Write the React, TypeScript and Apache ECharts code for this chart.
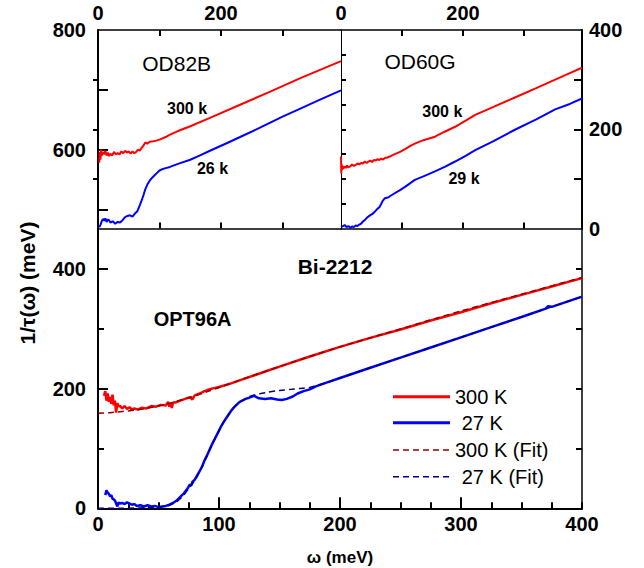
import React, { useEffect, useRef } from 'react';
import * as echarts from 'echarts';

const FONT = '"Liberation Sans", Arial, Helvetica, sans-serif';

// ---- Main panel (OPT96A), ω in meV, 1/τ in meV ----
const main300K: [number, number][] = [[5,188],[6,196],[7,180],[8,192],[9,178],[10,186],[11,175],[12,190],[13,172],[14,180],[15,160],[16,176],[17,170],[18,172],[20,167],[22,171],[24,166],[26,169],[28,165],[30,167],[33,165],[36,168],[40,167],[44,171],[48,170],[52,173],[56,172],[58,178],[59,170],[60,176],[61,168],[62,177],[64,177],[68,180],[72,183],[76,186],[78,182],[80,189],[84,192],[88,196],[92,199],[96,201],[100,203],[110,209],[120,216],[130,223],[140,230],[150,237],[175,254],[200,270],[225,285],[250,299],[275,314],[300,328],[325,343],[350,357],[375,371],[400,385]];
const main27K: [number, number][] = [[6,22],[7,30],[8,26],[9,24],[10,20],[11,22],[12,16],[13,15],[14,13],[15,8],[16,3],[17,10],[18,8],[20,9],[22,7],[24,10],[26,8],[28,6],[30,7],[32,4],[35,5],[38,3],[41,5],[44,3],[47,4],[50,2],[53,3],[56,4],[59,6],[62,9],[65,13],[68,19],[71,25],[74,33],[76,40],[77,38],[78,44],[80,48],[82,55],[84,62],[86,70],[88,80],[90,88],[92,97],[94,106],[96,114],[98,122],[100,130],[102,138],[104,145],[106,151],[108,157],[110,163],[112,168],[114,172],[116,176],[118,179],[120,181],[122,183],[125,185],[129,188],[133,184],[138,183],[143,184],[148,182],[152,181],[156,183],[161,187],[165,192],[170,196],[175,199],[180,204],[190,211],[200,218],[225,235],[250,252],[275,269],[300,286],[325,303],[350,320],[370,334],[372,338],[375,337],[400,354]];
const fit300K: [number, number][] = [[0,159],[10,160],[20,162],[30,164],[40,167],[50,171],[60,176],[70,182],[80,188],[90,195],[100,202],[125,220],[150,237],[175,254],[200,270],[250,300],[300,330],[350,358],[400,386]];
const fit27K: [number, number][] = [[0,0],[20,0],[40,1],[50,2],[55,3],[60,6],[65,11],[70,20],[75,33],[80,47],[85,65],[90,87],[95,110],[100,130],[105,148],[110,163],[115,174],[120,181],[125,187],[130,190],[140,194],[150,197],[160,199],[170,201],[175,202],[180,205],[190,211],[200,218],[250,252],[300,286],[350,320],[400,354]];

// ---- Left inset (OD82B) ----
const od82b300K: [number, number][] = [[2,578],[3,596],[4,583],[5,600],[6,590],[8,596],[10,592],[12,598],[14,590],[16,595],[18,589],[20,593],[23,590],[26,596],[29,592],[32,594],[35,592],[38,597],[41,594],[44,598],[47,595],[50,597],[53,593],[56,597],[59,594],[62,596],[65,600],[68,598],[71,603],[74,607],[77,612],[80,610],[84,613],[90,614],[95,615],[101,617],[110,621],[117,625],[130,631],[150,639],[182,653],[231,675],[280,697],[328,719],[360,733],[395,748]];
const od82b26K: [number, number][] = [[2,470],[4,474],[6,480],[8,484],[10,481],[12,485],[14,479],[16,483],[18,482],[20,478],[24,480],[28,476],[32,479],[36,478],[40,482],[44,487],[48,489],[52,490],[56,488],[60,493],[64,497],[68,507],[71,515],[74,524],[77,534],[80,541],[84,548],[88,553],[92,557],[96,561],[100,565],[104,567],[110,569],[117,571],[130,576],[150,583],[165,590],[182,598],[210,611],[231,621],[260,635],[280,645],[300,655],[328,668],[360,683],[395,699]];

// ---- Right inset (OD60G) ----
const od60g300K: [number, number][] = [[0,145],[0.5,111],[1,130],[2,118],[3,126],[4,121],[6,125],[8,122],[10,127],[12,123],[15,125],[18,129],[21,126],[24,128],[27,131],[30,129],[33,132],[36,131],[39,135],[42,132],[45,135],[48,137],[51,134],[54,138],[57,137],[60,140],[63,138],[66,141],[69,139],[72,142],[76,143],[80,145],[88,150],[96,154],[105,160],[113,166],[121,171],[135,178],[154,185],[170,195],[187,205],[205,218],[220,229],[250,245],[285,264],[320,283],[351,300],[375,313],[395,324]];
const od60g29K: [number, number][] = [[0,3],[3,5],[6,7],[9,3],[12,5],[15,2],[18,4],[21,3],[24,6],[27,5],[30,8],[33,10],[36,14],[39,17],[42,21],[45,24],[48,27],[51,29],[54,32],[57,36],[60,40],[63,43],[66,50],[68,55],[70,58],[72,61],[75,62],[78,63],[80,65],[84,68],[88,71],[96,77],[105,84],[113,91],[121,98],[135,105],[154,115],[170,124],[187,135],[205,147],[220,158],[250,176],[285,199],[320,220],[351,240],[375,251],[395,262]];

// ---- Tick / label values ----
const mainXRange = [0, 400];
const mainXMajorTicks = [100, 200, 300];
const mainYRange = [0, 468];
const insetXRange = [0, 395];
const leftInsetYRange = [468, 800];
const rightInsetYRange = [0, 400];
const mainYLabels = [0, 200, 400];
const mainYMajorTicks = [200, 400];
const mainYMinorTicks = [100, 300];
const mainYRightTicks = [100, 200, 300, 400];
const insetXLabels = [0, 200];
const insetXTicks = [100, 200, 300];
const leftInsetYLabels = [600, 800];
const leftInsetYTicks = [500, 600, 700];
const leftInsetYRightTicks = [100, 200, 300]; // drawn on the OD60G scale at the shared divider
const rightInsetYLabels = [0, 200, 400];
const rightInsetYTicks = [100, 200, 300];
const rightInsetYLeftTicks = [50, 100, 150, 200, 250, 300, 350];

const RED = '#ff0000';
const BLUE = '#0000ff';
const DARKRED = '#8b0000';
const NAVY = '#000080';
const TICKW = 2;

const labelStyle = { color: '#000', fontFamily: FONT, fontWeight: 'bold' as const, fontSize: 20 };
const line = (w: number) => ({ show: true, onZero: false, lineStyle: { color: '#000', width: w } });
const tick = (len: number, values: number[]) => ({ show: true, inside: true, length: len, customValues: values, lineStyle: { color: '#000', width: TICKW } });

const txt = (x: number, y: number, text: string, size: number, bold: boolean, extra: any = {}) => ({
  type: 'text', x, y, ...extra,
  style: {
    text, fill: '#000', fontSize: size, fontFamily: FONT, fontWeight: bold ? 'bold' : 'normal',
    align: 'center', textAlign: 'center',
    verticalAlign: 'middle', textVerticalAlign: 'middle',
  },
});

const legendRows = [
  { label: '300 K', color: RED, width: 3, dash: null as number[] | null, tx: 455, y: 396.7 },
  { label: '27 K', color: BLUE, width: 3, dash: null, tx: 461.7, y: 422.7 },
  { label: '300 K (Fit)', color: DARKRED, width: 1.5, dash: [6, 4], tx: 455, y: 450 },
  { label: '27 K (Fit)', color: NAVY, width: 1.5, dash: [6, 4], tx: 461.7, y: 476.7 },
];

function buildOption(): any {
  const legendGraphics: any[] = [];
  legendRows.forEach((r) => {
    legendGraphics.push({
      type: 'line',
      shape: { x1: 393, y1: r.y, x2: 450, y2: r.y },
      style: { stroke: r.color, lineWidth: r.width, lineDash: r.dash || undefined },
    });
    legendGraphics.push({
      type: 'text', x: r.tx, y: r.y,
      style: { text: r.label, fill: '#000', fontSize: 20, fontFamily: FONT, align: 'left', textAlign: 'left', verticalAlign: 'middle', textVerticalAlign: 'middle' },
    });
  });

  const noSplit = { splitLine: { show: false }, minorSplitLine: { show: false } };

  return {
    animation: false,
    backgroundColor: '#fff',
    grid: [
      { left: 98, top: 228.5, width: 484, height: 279.8 },
      { left: 98, top: 30, width: 243, height: 198.5 },
      { left: 341, top: 30, width: 241, height: 198.5 },
    ],
    xAxis: [
      {
        type: 'value', gridIndex: 0, min: mainXRange[0], max: mainXRange[1], interval: 100, position: 'bottom',
        axisLine: line(2),
        axisTick: { show: true, inside: true, length: 6, lineStyle: { color: '#000', width: TICKW } },
        minorTick: { show: true, splitNumber: 4, length: 6, lineStyle: { color: '#000', width: TICKW } },
        axisLabel: { ...labelStyle, margin: 6 },
        name: 'ω (meV)', nameLocation: 'middle', nameGap: 41,
        nameTextStyle: { color: '#000', fontFamily: FONT, fontWeight: 'bold', fontSize: 17 },
        ...noSplit,
      },
      {
        type: 'value', gridIndex: 1, min: insetXRange[0], max: insetXRange[1], position: 'top',
        axisLine: line(1.5), axisTick: tick(6, insetXTicks),
        axisLabel: { ...labelStyle, margin: 7, customValues: insetXLabels }, ...noSplit,
      },
      {
        type: 'value', gridIndex: 1, min: insetXRange[0], max: insetXRange[1], position: 'bottom',
        axisLine: line(1.5), axisTick: tick(6, insetXTicks), axisLabel: { show: false }, ...noSplit,
      },
      {
        type: 'value', gridIndex: 2, min: insetXRange[0], max: insetXRange[1], position: 'top',
        axisLine: line(1.5), axisTick: tick(6, insetXTicks),
        axisLabel: { ...labelStyle, margin: 7, customValues: insetXLabels }, ...noSplit,
      },
      {
        type: 'value', gridIndex: 2, min: insetXRange[0], max: insetXRange[1], position: 'bottom',
        axisLine: line(1.5), axisTick: tick(6, insetXTicks), axisLabel: { show: false }, ...noSplit,
      },
      {
        // longer major ticks of the main ω axis
        type: 'value', gridIndex: 0, min: mainXRange[0], max: mainXRange[1], position: 'bottom',
        axisLine: { show: false }, axisTick: tick(11, mainXMajorTicks), axisLabel: { show: false }, ...noSplit,
      },
    ],
    yAxis: [
      {
        type: 'value', gridIndex: 0, min: mainYRange[0], max: mainYRange[1], position: 'left',
        axisLine: line(2), axisTick: tick(10, mainYMajorTicks),
        axisLabel: { ...labelStyle, margin: 12, customValues: mainYLabels }, ...noSplit,
      },
      {
        type: 'value', gridIndex: 0, min: mainYRange[0], max: mainYRange[1], position: 'left',
        axisLine: { show: false }, axisTick: tick(6, mainYMinorTicks), axisLabel: { show: false }, ...noSplit,
      },
      {
        type: 'value', gridIndex: 0, min: mainYRange[0], max: mainYRange[1], position: 'right',
        axisLine: line(1.5), axisTick: tick(6, mainYRightTicks), axisLabel: { show: false }, ...noSplit,
      },
      {
        type: 'value', gridIndex: 1, min: leftInsetYRange[0], max: leftInsetYRange[1], position: 'left',
        axisLine: line(2), axisTick: tick(10, leftInsetYTicks),
        axisLabel: { ...labelStyle, margin: 12, customValues: leftInsetYLabels }, ...noSplit,
      },
      {
        type: 'value', gridIndex: 2, min: rightInsetYRange[0], max: rightInsetYRange[1], position: 'right',
        axisLine: line(2), axisTick: tick(8, rightInsetYTicks),
        axisLabel: { ...labelStyle, margin: 7, customValues: rightInsetYLabels }, ...noSplit,
      },
      {
        type: 'value', gridIndex: 2, min: rightInsetYRange[0], max: rightInsetYRange[1], position: 'left',
        axisLine: line(1), axisTick: tick(5, rightInsetYLeftTicks), axisLabel: { show: false }, ...noSplit,
      },
      {
        type: 'value', gridIndex: 1, min: rightInsetYRange[0], max: rightInsetYRange[1], position: 'right',
        axisLine: { show: false }, axisTick: tick(5, leftInsetYRightTicks), axisLabel: { show: false }, ...noSplit,
      },
    ],
    series: [
      { name: '300 K', type: 'line', xAxisIndex: 0, yAxisIndex: 0, data: main300K, symbol: 'none', lineStyle: { color: RED, width: 2.5 }, z: 2 },
      { name: '27 K', type: 'line', xAxisIndex: 0, yAxisIndex: 0, data: main27K, symbol: 'none', lineStyle: { color: BLUE, width: 2.5 }, z: 2 },
      { name: '300 K (Fit)', type: 'line', xAxisIndex: 0, yAxisIndex: 0, data: fit300K, symbol: 'none', smooth: 0.3, lineStyle: { color: DARKRED, width: 1.5, type: [6, 4] }, z: 3 },
      { name: '27 K (Fit)', type: 'line', xAxisIndex: 0, yAxisIndex: 0, data: fit27K, symbol: 'none', smooth: 0.3, lineStyle: { color: NAVY, width: 1.5, type: [6, 4] }, z: 3 },
      { name: 'OD82B 300 k', type: 'line', xAxisIndex: 1, yAxisIndex: 3, data: od82b300K, symbol: 'none', lineStyle: { color: RED, width: 2 } },
      { name: 'OD82B 26 k', type: 'line', xAxisIndex: 1, yAxisIndex: 3, data: od82b26K, symbol: 'none', lineStyle: { color: BLUE, width: 2 } },
      { name: 'OD60G 300 k', type: 'line', xAxisIndex: 3, yAxisIndex: 4, data: od60g300K, symbol: 'none', lineStyle: { color: RED, width: 2 } },
      { name: 'OD60G 29 k', type: 'line', xAxisIndex: 3, yAxisIndex: 4, data: od60g29K, symbol: 'none', lineStyle: { color: BLUE, width: 2 } },
    ],
    graphic: [
      txt(176.7, 63.3, 'OD82B', 21, false),
      txt(420, 61.3, 'OD60G', 21, false),
      txt(187, 108.3, '300 k', 16, true),
      txt(212.5, 168.3, '26 k', 16, true),
      txt(442.3, 111.7, '300 k', 16, true),
      txt(464, 178.3, '29 k', 16, true),
      txt(335, 266.7, 'Bi-2212', 21, true),
      txt(192.6, 319, 'OPT96A', 20, true),
      txt(27.5, 283, '1/τ(ω) (meV)', 21, true, { rotation: Math.PI / 2 }),
      ...legendGraphics,
    ],
  };
}

export default function App() {
  const ref = useRef<HTMLDivElement>(null);
  useEffect(() => {
    if (!ref.current) return;
    const chart = echarts.init(ref.current, null, { renderer: 'svg' });
    chart.setOption(buildOption());
    return () => chart.dispose();
  }, []);
  return <div ref={ref} style={{ position: 'absolute', left: 0, top: 0, width: 644, height: 568, background: '#fff' }} />;
}
